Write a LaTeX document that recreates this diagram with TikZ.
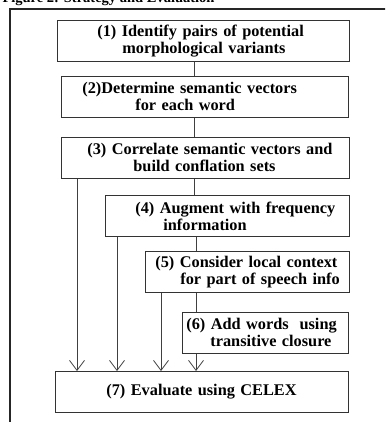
\documentclass[tikz,border=0pt]{standalone}
\usepackage{fontspec}
\setmainfont{Liberation Serif}
\usetikzlibrary{positioning}
\usetikzlibrary{arrows.meta}

\begin{document}
\begin{tikzpicture}[x=1pt, y=-1pt,
    every node/.style={font=\fontsize{16.3}{17}\selectfont\bfseries},
    stepbox/.style={draw=black!80, line width=0.8pt, anchor=north west, inner sep=0pt, align=left, minimum height=41pt},
    link/.style={draw=black!75, line width=0.8pt},
    toeval/.style={link, -{Straight Barb[length=10pt, width=15pt]}}]
        \clip (0,0) rectangle (385,422);

        \node[anchor=base west, font=\fontsize{14.5}{16}\selectfont\bfseries] (title) at (-1,3) {Figure 2: Strategy and Evaluation};
        \draw[line width=1.4pt, black!85] (10,9) rectangle (420,460);

        \node[stepbox, text width=292pt] (ident) at (57,20) {\hspace*{40pt}(1) Identify pairs of potential\\\hspace*{65pt}morphological variants};
        \node[stepbox, text width=287pt] (vect) at (61,76) {\hspace*{21pt}(2)Determine semantic vectors\\\hspace*{74pt}for each word};
        \node[stepbox, text width=288pt] (corr) at (61,137) {\hspace*{26pt}(3) Correlate semantic vectors and\\\hspace*{72pt}build conflation sets};
        \node[stepbox, text width=244pt] (freq) at (105,195) {\hspace*{30pt}(4) Augment with frequency\\\hspace*{58pt}information};
        \node[stepbox, text width=204pt] (ctx) at (145,251) {\hspace*{10pt}(5) Consider local context\\\hspace*{35pt}for part of speech info};
        \node[stepbox, text width=166pt] (clos) at (182,312) {\hspace*{4pt}(6) Add words\ \ using\\\hspace*{28pt}transitive closure};
        \node[stepbox, text width=293pt] (eval) at (55,371) {\hspace*{51pt}(7) Evaluate using CELEX};

        % columns of the connectors
        \coordinate (spine) at (194,0);
        \coordinate (spinetwo) at (196,0);
        \coordinate (colc) at (77,0);
        \coordinate (colf) at (117,0);
        \coordinate (colx) at (161,0);

        \draw[link] (ident.south -| spine) -- (vect.north -| spine);
        \draw[link] (vect.south -| spine) -- (corr.north -| spine);
        \draw[link] (corr.south -| spine) -- (freq.north -| spine);
        \draw[link] (freq.south -| spinetwo) -- (ctx.north -| spinetwo);
        \draw[link] (ctx.south -| spinetwo) -- (clos.north -| spinetwo);

        \draw[toeval] (corr.south -| colc) -- (eval.north -| colc);
        \draw[toeval] (freq.south -| colf) -- (eval.north -| colf);
        \draw[toeval] (ctx.south -| colx) -- (eval.north -| colx);
        \draw[toeval] (clos.south -| spinetwo) -- (eval.north -| spinetwo);
    \end{tikzpicture}
\end{document}
